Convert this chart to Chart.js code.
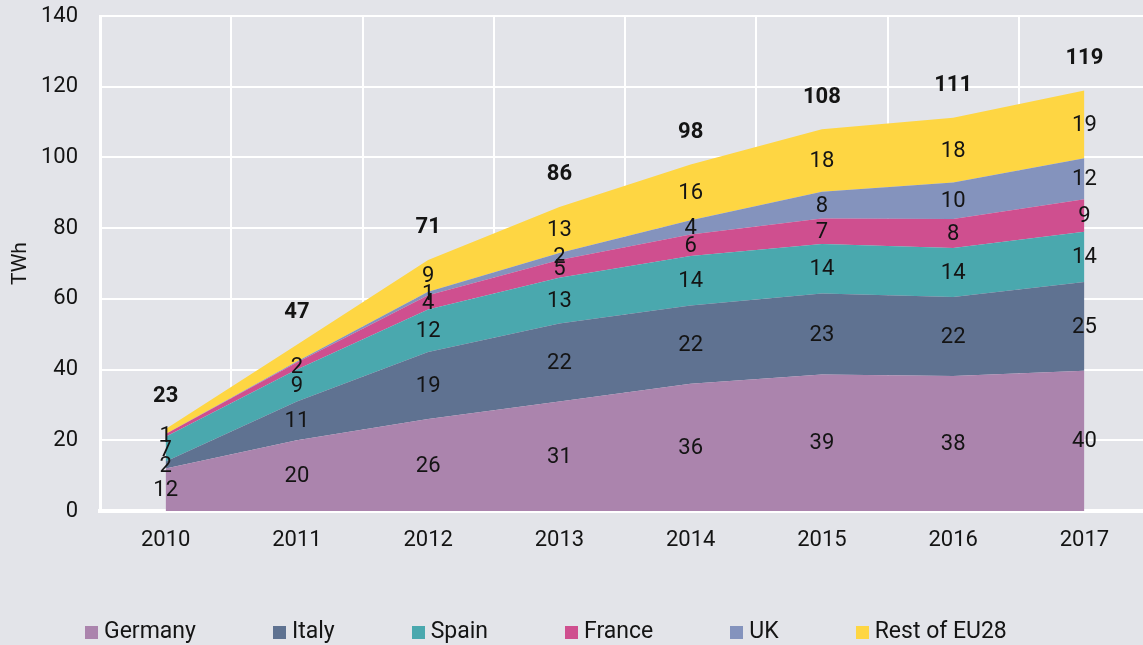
<!DOCTYPE html>
<html>
<head>
<meta charset="utf-8">
<script src="https://cdn.jsdelivr.net/npm/chart.js@4.4.1/dist/chart.umd.min.js"></script>
<style>
  html, body { margin:0; padding:0; background:#e3e4e9; overflow:hidden; width:1143px; height:645px; }
  #wrap { position:absolute; left:0; top:0; width:1150px; height:645px; }
  #legend { position:absolute; left:85px; top:617px; display:flex; align-items:center;
            font-family: Roboto, "Open Sans", sans-serif; font-size:23px; color:#141414; }
  #legend .item { display:flex; align-items:center; margin-right:77px; white-space:nowrap; }
  #legend .box { width:13px; height:13px; margin-right:6px; margin-top:3px; }
</style>
</head>
<body>
<div id="wrap"><canvas id="c"></canvas></div>
<div id="legend"></div>
<script>
// ---- data ----
const years   = ['2010','2011','2012','2013','2014','2015','2016','2017'];
const germany = [12, 20, 26, 31, 36, 38.6, 38.2, 39.7];
const italy   = [2, 11, 19, 22, 22.1, 22.9, 22.3, 25.1];
const spain   = [7, 9, 12, 13, 14, 14, 13.9, 14.2];
const france  = [0.8, 2, 4, 5, 6.1, 7.2, 8.2, 9.2];
const uk      = [0, 0.3, 1, 2, 4, 7.6, 10.3, 11.6];
const rest    = [1.4, 4.7, 9, 13, 15.8, 17.7, 18.3, 19.1];
const totals  = [23, 47, 71, 86, 98, 108, 111, 119];
const seriesNames  = ['Germany','Italy','Spain','France','UK','Rest of EU28'];
const seriesColors = ['#ab84ad','#5f7291','#4aa8ae','#cf4f8f','#8493bd','#fed643'];
const yTicks = [0,20,40,60,80,100,120,140];
// labels not printed in the reference: [seriesIndex, yearIndex]
const hiddenLabels = [[4,0],[4,1],[5,0],[5,1]];

const seriesValues = [germany, italy, spain, france, uk, rest];
const FONT = 'Roboto, "Open Sans", sans-serif';
const TEXT = '#141414';

const datasets = seriesValues.map((vals, i) => ({
  label: seriesNames[i],
  data: vals,
  backgroundColor: seriesColors[i],
  borderColor: seriesColors[i],
  borderWidth: 0,
  pointRadius: 0,
  pointHoverRadius: 0,
  tension: 0,
  fill: i === 0 ? 'origin' : '-1'
}));

const labelPlugin = {
  id: 'areaLabels',
  afterDatasetsDraw(chart) {
    const ctx = chart.ctx;
    const ys = chart.scales.y;
    ctx.save();
    ctx.textAlign = 'center';
    ctx.textBaseline = 'middle';
    ctx.fillStyle = TEXT;
    ctx.font = '22px ' + FONT;
    const n = years.length;
    for (let j = 0; j < n; j++) {
      let base = 0;
      for (let i = 0; i < seriesValues.length; i++) {
        const v = seriesValues[i][j];
        const hidden = hiddenLabels.some(h => h[0] === i && h[1] === j);
        if (!hidden) {
          const x = chart.getDatasetMeta(i).data[j].x;
          const y = ys.getPixelForValue(base + v / 2);
          ctx.fillText(String(Math.round(v)), x, y + 1);
        }
        base += v;
      }
      // total on top
      const x = chart.getDatasetMeta(0).data[j].x;
      ctx.font = 'bold 22px ' + FONT;
      ctx.fillText(String(totals[j]), x, ys.getPixelForValue(base) - 32);
      ctx.font = '22px ' + FONT;
    }
    ctx.restore();
  }
};

new Chart(document.getElementById('c'), {
  type: 'line',
  data: { labels: years, datasets },
  plugins: [labelPlugin],
  options: {
    responsive: true,
    maintainAspectRatio: false,
    animation: false,
    layout: { padding: { top: 16, right: 0, bottom: 0, left: 0 } },
    plugins: {
      legend: { display: false },
      tooltip: { enabled: false }
    },
    scales: {
      x: {
        type: 'category',
        offset: true,
        grid: { offset: true, color: '#ffffff', lineWidth: 2, drawTicks: false },
        border: { display: true, color: '#ffffff', width: 4 },
        ticks: { color: TEXT, font: { family: FONT, size: 22 }, padding: 16, maxRotation: 0 },
        afterFit(scale) { scale.height = 134; scale.paddingLeft = 0; scale.paddingRight = 0; }
      },
      y: {
        stacked: true,
        min: 0, max: 140,
        grid: { color: '#ffffff', lineWidth: 2, drawTicks: false },
        border: { display: true, color: '#ffffff', width: 3 },
        afterBuildTicks(scale) { scale.ticks = yTicks.map(v => ({ value: v })); },
        ticks: { color: TEXT, font: { family: FONT, size: 22 }, padding: 22 },
        title: { display: true, text: 'TWh', color: TEXT, font: { family: FONT, size: 21 }, padding: { top: 8, bottom: 0 } },
        afterFit(scale) { scale.width = 100; scale.paddingTop = 0; scale.paddingBottom = 0; }
      }
    }
  }
});

// legend (HTML, built from the series arrays)
const leg = document.getElementById('legend');
seriesNames.forEach((name, i) => {
  const it = document.createElement('div'); it.className = 'item';
  const b = document.createElement('span'); b.className = 'box'; b.style.background = seriesColors[i];
  const t = document.createElement('span'); t.textContent = name;
  it.appendChild(b); it.appendChild(t); leg.appendChild(it);
});
</script>
</body>
</html>
